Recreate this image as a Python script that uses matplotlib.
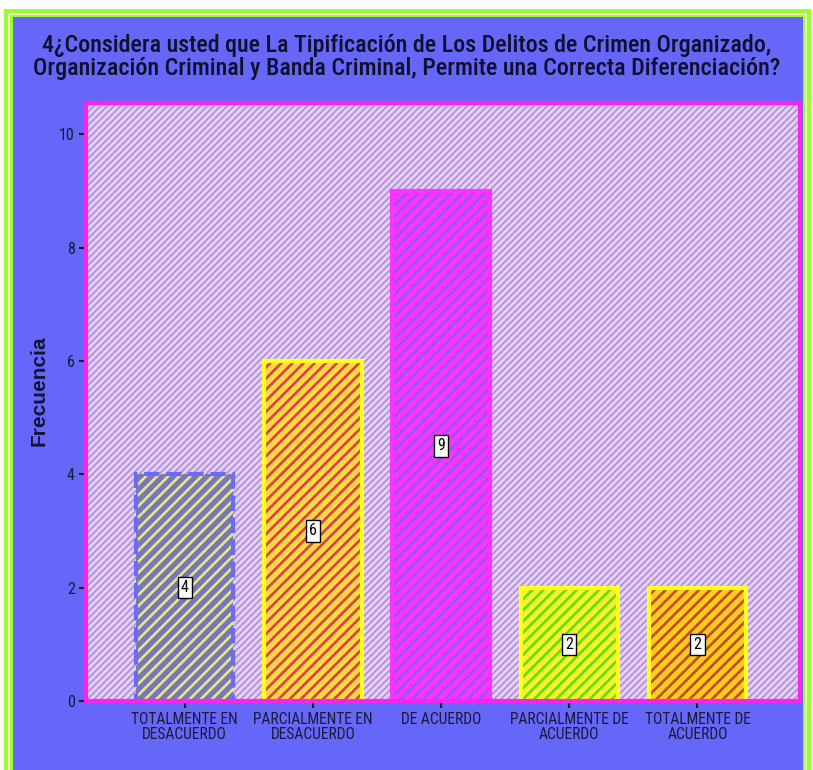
import matplotlib.pyplot as plt
from matplotlib.patches import Rectangle

categories = ["TOTALMENTE EN\nDESACUERDO", "PARCIALMENTE EN\nDESACUERDO", "DE ACUERDO",
              "PARCIALMENTE DE\nACUERDO", "TOTALMENTE DE\nACUERDO"]
values = [4, 6, 9, 2, 2]
y_ticks = [0, 2, 4, 6, 8, 10]

fill_colors = ["#7878B4", "#FFD84A", "#FF33FF", "#F4F42A", "#FFCC22"]
stripe_colors = ["#E6E68C", "#D8443A", "#9A55F0", "#66DD10", "#C84A14"]
edge_colors = ["#6A6AFF", "#FFFF20", "#FF33FF", "#FFFF20", "#FFFF20"]
edge_styles = ["--", "-", "-", "-", "-"]

title = ("4¿Considera usted que La Tipificación de Los Delitos de Crimen Organizado,\n"
         "Organización Criminal y Banda Criminal, Permite una Correcta Diferenciación?")

narrow = ["Roboto Condensed", "DejaVu Sans"]

W, H = 813, 770
fig = plt.figure(figsize=(W / 100, H / 100), dpi=100)
fig.patch.set_facecolor("white")


def px_rect(x0, y0, x1, y1, color):
    # rectangle given in pixel coordinates (origin top-left)
    fig.patches.append(Rectangle((x0 / W, 1 - y1 / H), (x1 - x0) / W, (y1 - y0) / H,
                                 transform=fig.transFigure, facecolor=color,
                                 edgecolor="none", zorder=-10))


# frame: green / cream / green, then blue panel
px_rect(4, 9, 811, 780, "#99FF33")
px_rect(8, 13, 807, 780, "#F2F2C8")
px_rect(10, 15, 805, 780, "#99FF33")
px_rect(13, 17, 803, 780, "#6666F8")

ax = fig.add_axes([86 / W, 1 - 701 / H, (800 - 86) / W, (701 - 103) / H])
ax.set_facecolor("#E8CEF4")
bg = Rectangle((0, 0), 1, 1, transform=ax.transAxes, facecolor="none",
               edgecolor="#A890DC", hatch="/////", linewidth=0, zorder=0)
bg.set_hatch_linewidth(1.2)
ax.add_patch(bg)

x = range(len(values))
for i, v in enumerate(values):
    b = ax.bar(i, v, width=0.76, color=fill_colors[i], edgecolor=stripe_colors[i],
               hatch="///", linewidth=0, zorder=2)
    for p in b:
        p.set_hatch_linewidth(1.9)
    ax.bar(i, v, width=0.76, color="none", edgecolor=edge_colors[i],
           linewidth=3, linestyle=edge_styles[i], zorder=3)
    ax.text(i, v / 2, str(v), ha="center", va="center", fontsize=11.5, family=narrow,
            color="black", zorder=4,
            bbox=dict(boxstyle="square,pad=0.2", facecolor="white",
                      edgecolor="black", linewidth=1))

ax.set_xlim(-0.77, 4.8)
ax.set_ylim(0, 10.55)
ax.set_xticks(list(x))
ax.set_xticklabels(categories, family=narrow, fontsize=11.2, color="#1A1A3A",
                   linespacing=1.0)
ax.set_yticks(y_ticks)
ax.set_yticklabels([str(t) for t in y_ticks], family=narrow, fontsize=11.5,
                   color="#1A1A3A")
ax.tick_params(axis="both", length=5, width=1.5, color="#1A1A3A", pad=3)

for s in ax.spines.values():
    s.set_color("#FF22EE")
    s.set_linewidth(3)
    s.set_zorder(5)

fig.text(39 / W, 1 - 391 / H, "Frecuencia", rotation=90, ha="center", va="center",
         fontsize=15, fontweight="bold", color="#14143A",
         family=["Liberation Sans", "DejaVu Sans"])

fig.text(407 / W, 1 - 57 / H, title, ha="center", va="center", fontsize=17.3,
         fontweight="medium", family=narrow, color="#101030", linespacing=1.0)

fig.savefig("out.png", dpi=100)
